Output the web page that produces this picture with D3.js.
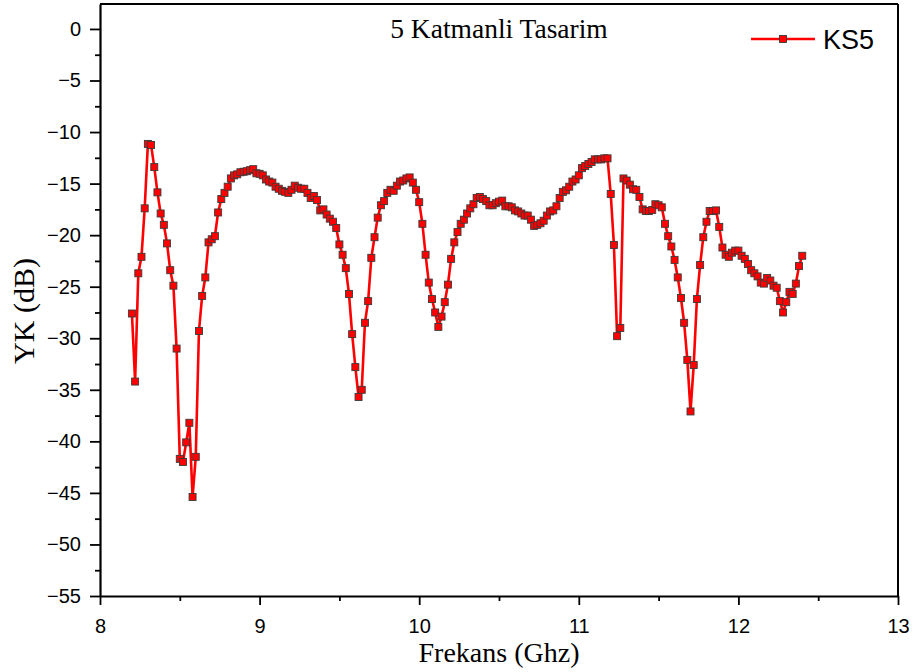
<!DOCTYPE html>
<html>
<head>
<meta charset="utf-8">
<script src="https://cdn.jsdelivr.net/npm/d3@7"></script>
<style>
  body { margin: 0; background: #fff; }
  svg { display: block; }
</style>
</head>
<body>
<svg id="chart" width="920" height="672"></svg>
<script>
// Frequency sweep (GHz)
const freqGHz = [
  8.20, 8.22, 8.24, 8.26, 8.28, 8.30, 8.32, 8.34, 8.36, 8.38,
  8.40, 8.42, 8.44, 8.46, 8.48, 8.50, 8.52, 8.54, 8.56, 8.58,
  8.60, 8.62, 8.64, 8.66, 8.68, 8.70, 8.72, 8.74, 8.76, 8.78,
  8.80, 8.82, 8.84, 8.86, 8.88, 8.90, 8.92, 8.94, 8.96, 8.98,
  9.00, 9.02, 9.04, 9.06, 9.08, 9.10, 9.12, 9.14, 9.16, 9.18,
  9.20, 9.22, 9.24, 9.26, 9.28, 9.30, 9.32, 9.34, 9.36, 9.38,
  9.40, 9.42, 9.44, 9.46, 9.48, 9.50, 9.52, 9.54, 9.56, 9.58,
  9.60, 9.62, 9.64, 9.66, 9.68, 9.70, 9.72, 9.74, 9.76, 9.78,
  9.80, 9.82, 9.84, 9.86, 9.88, 9.90, 9.92, 9.94, 9.96, 9.98,
  10.00, 10.02, 10.04, 10.06, 10.08, 10.10, 10.12, 10.14, 10.16, 10.18,
  10.20, 10.22, 10.24, 10.26, 10.28, 10.30, 10.32, 10.34, 10.36, 10.38,
  10.40, 10.42, 10.44, 10.46, 10.48, 10.50, 10.52, 10.54, 10.56, 10.58,
  10.60, 10.62, 10.64, 10.66, 10.68, 10.70, 10.72, 10.74, 10.76, 10.78,
  10.80, 10.82, 10.84, 10.86, 10.88, 10.90, 10.92, 10.94, 10.96, 10.98,
  11.00, 11.02, 11.04, 11.06, 11.08, 11.10, 11.12, 11.14, 11.16, 11.18,
  11.20, 11.22, 11.24, 11.26, 11.28, 11.30, 11.32, 11.34, 11.36, 11.38,
  11.40, 11.42, 11.44, 11.46, 11.48, 11.50, 11.52, 11.54, 11.56, 11.58,
  11.60, 11.62, 11.64, 11.66, 11.68, 11.70, 11.72, 11.74, 11.76, 11.78,
  11.80, 11.82, 11.84, 11.86, 11.88, 11.90, 11.92, 11.94, 11.96, 11.98,
  12.00, 12.02, 12.04, 12.06, 12.08, 12.10, 12.12, 12.14, 12.16, 12.18,
  12.20, 12.22, 12.24, 12.26, 12.28, 12.30, 12.32, 12.34, 12.36, 12.38,
  12.40
];

// KS5 reflection loss (dB)
const ks5 = [
  -27.6, -34.2, -23.7, -22.1, -17.4, -11.15, -11.25, -13.4, -15.85, -17.9,
  -19.0, -20.8, -23.4, -24.9, -31.0, -41.7, -42.0, -40.1, -38.2, -45.4,
  -41.5, -29.3, -25.9, -24.1, -20.7, -20.4, -20.1, -17.8, -16.5, -15.9,
  -15.3, -14.5, -14.2, -14.1, -13.9, -13.85, -13.8, -13.7, -13.6, -14.0,
  -14.05, -14.2, -14.6, -14.8, -14.9, -15.3, -15.5, -15.7, -15.8, -15.9,
  -15.6, -15.2, -15.4, -15.5, -15.5, -15.9, -16.4, -16.2, -16.6, -17.6,
  -17.5, -18.0, -18.4, -18.7, -19.3, -20.9, -21.9, -23.2, -25.7, -29.6,
  -32.8, -35.7, -35.0, -28.5, -26.4, -22.2, -20.2, -18.3, -17.1, -16.7,
  -15.9, -15.6, -15.7, -15.2, -14.8, -14.7, -14.5, -14.4, -14.9, -15.6,
  -16.8, -18.9, -21.9, -24.6, -26.2, -27.5, -28.9, -27.9, -26.5, -24.8,
  -22.3, -20.7, -19.7, -18.9, -18.5, -17.9, -17.4, -17.0, -16.4, -16.3,
  -16.5, -16.7, -17.1, -17.1, -16.9, -16.75, -16.65, -17.2, -17.2, -17.3,
  -17.6, -17.7, -17.9, -18.1, -18.1, -18.5, -19.1, -19.0, -18.85, -18.6,
  -18.1, -17.7, -17.6, -17.2, -16.4, -15.8, -15.65, -15.3, -14.8, -14.6,
  -14.2, -13.5, -13.3, -13.1, -12.9, -12.65, -12.65, -12.65, -12.55, -12.55,
  -16.0, -20.95, -29.8, -29.0, -14.5, -14.7, -15.1, -15.55, -15.6, -16.3,
  -17.5, -17.65, -17.65, -17.55, -17.0, -17.1, -17.3, -18.9, -20.1, -21.1,
  -22.4, -24.1, -26.1, -28.5, -32.1, -37.1, -32.6, -26.2, -22.9, -20.2,
  -18.7, -17.65, -17.65, -17.6, -19.2, -21.2, -21.9, -22.1, -21.7, -21.5,
  -21.5, -22.0, -22.3, -22.8, -23.4, -23.7, -24.0, -24.6, -24.7, -24.15,
  -24.4, -24.9, -25.1, -26.4, -27.5, -26.5, -25.5, -25.7, -24.7, -23.0,
  -22.0
];

const xTickValues = [8, 9, 10, 11, 12, 13];
const xMinorTicks = [8.5, 9.5, 10.5, 11.5, 12.5];
const yTickValues = [0, -5, -10, -15, -20, -25, -30, -35, -40, -45, -50, -55];
const yMinorTicks = [-2.5, -7.5, -12.5, -17.5, -22.5, -27.5, -32.5, -37.5, -42.5, -47.5, -52.5];

const chartTitle = "5 Katmanli Tasarim";
const xTitle = "Frekans (Ghz)";
const yTitle = "YK (dB)";
const seriesName = "KS5";

const points = freqGHz.map((f, i) => ({ f, v: ks5[i] }));

const svg = d3.select("#chart");
const plot = { left: 100, right: 898, top: 4, bottom: 596 };

const x = d3.scaleLinear().domain([8, 13]).range([plot.left, plot.right]);
const y = d3.scaleLinear().domain([-55, 2.42]).range([plot.bottom, plot.top]);

const sansFont = "'Liberation Sans', Arial, sans-serif";
const serifFont = "'Liberation Serif', 'Times New Roman', serif";

// Frame: top and right edges
svg.append("line")
  .attr("x1", plot.left).attr("x2", plot.right)
  .attr("y1", plot.top).attr("y2", plot.top)
  .attr("stroke", "#000").attr("stroke-width", 2);
svg.append("line")
  .attr("x1", plot.right).attr("x2", plot.right)
  .attr("y1", plot.top).attr("y2", plot.bottom)
  .attr("stroke", "#000").attr("stroke-width", 2);

// Bottom axis
svg.append("g")
  .attr("transform", `translate(0,${plot.bottom})`)
  .call(d3.axisBottom(x).tickValues(xTickValues).tickFormat(d3.format("d"))
    .tickSize(9).tickPadding(14).tickSizeOuter(0));
svg.append("g")
  .attr("transform", `translate(0,${plot.bottom})`)
  .call(d3.axisBottom(x).tickValues(xMinorTicks).tickFormat("").tickSize(5).tickSizeOuter(0))
  .call(g => g.select(".domain").remove());

// Left axis
svg.append("g")
  .attr("transform", `translate(${plot.left},0)`)
  .call(d3.axisLeft(y).tickValues(yTickValues).tickFormat(d3.format("d"))
    .tickSize(10).tickPadding(9).tickSizeOuter(0));
svg.append("g")
  .attr("transform", `translate(${plot.left},0)`)
  .call(d3.axisLeft(y).tickValues(yMinorTicks).tickFormat("").tickSize(5).tickSizeOuter(0))
  .call(g => g.select(".domain").remove());

svg.selectAll(".domain").attr("stroke", "#000").attr("stroke-width", 2.2);
svg.selectAll(".tick line").attr("stroke", "#000").attr("stroke-width", 1.8);
svg.selectAll(".tick text")
  .attr("fill", "#000")
  .style("font-family", sansFont)
  .style("font-size", "20px");

// Series line
const line = d3.line().x(d => x(d.f)).y(d => y(d.v));
svg.append("path")
  .datum(points)
  .attr("fill", "none")
  .attr("stroke", "#ff0000")
  .attr("stroke-width", 2.6)
  .attr("stroke-linejoin", "round")
  .attr("d", line);

// Square markers
const ms = 7;
svg.append("g").selectAll("rect")
  .data(points)
  .join("rect")
  .attr("x", d => x(d.f) - ms / 2)
  .attr("y", d => y(d.v) - ms / 2)
  .attr("width", ms).attr("height", ms)
  .attr("fill", "#ff0000")
  .attr("stroke", "#3a3a3a")
  .attr("stroke-width", 0.9);

// Titles
svg.append("text")
  .attr("x", 499).attr("y", 38)
  .attr("text-anchor", "middle")
  .style("font-family", serifFont)
  .style("font-size", "27.5px")
  .text(chartTitle);

svg.append("text")
  .attr("x", 499).attr("y", 662)
  .attr("text-anchor", "middle")
  .style("font-family", serifFont)
  .style("font-size", "28px")
  .text(xTitle);

svg.append("text")
  .attr("transform", `translate(34,311) rotate(-90)`)
  .attr("text-anchor", "middle")
  .style("font-family", serifFont)
  .style("font-size", "30px")
  .text(yTitle);

// Legend
const legend = svg.append("g").attr("transform", "translate(751,39)");
legend.append("line")
  .attr("x1", 0).attr("x2", 64).attr("y1", 0).attr("y2", 0)
  .attr("stroke", "#ff0000").attr("stroke-width", 2.6);
legend.append("rect")
  .attr("x", 32 - ms / 2).attr("y", -ms / 2)
  .attr("width", ms).attr("height", ms)
  .attr("fill", "#ff0000").attr("stroke", "#3a3a3a").attr("stroke-width", 0.9);
legend.append("text")
  .attr("x", 72).attr("y", 9.5)
  .style("font-family", sansFont)
  .style("font-size", "27px")
  .text(seriesName);
</script>
</body>
</html>
